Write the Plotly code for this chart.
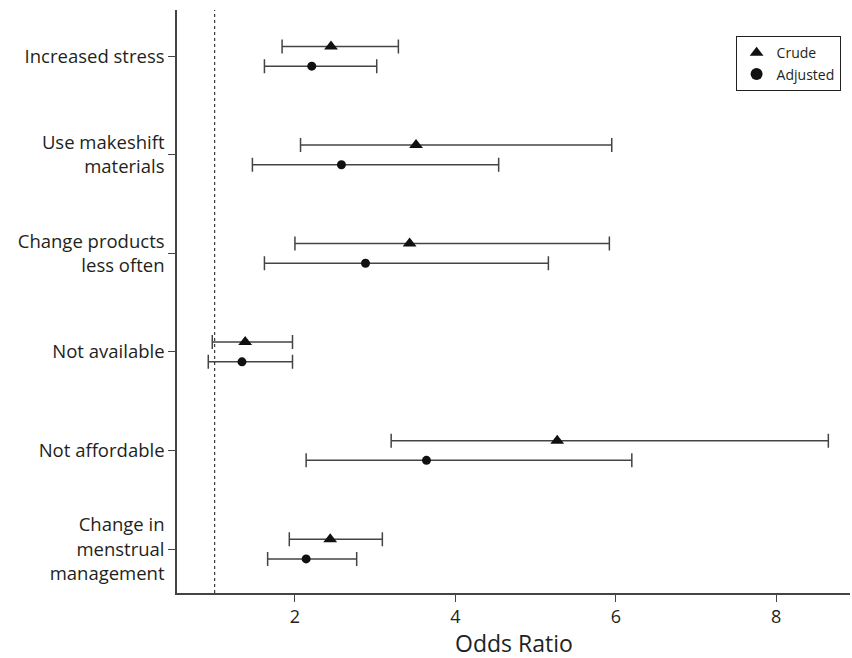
import plotly.graph_objects as go

categories = ["Change in<br>menstrual<br>management", "Not affordable", "Not available",
              "Change products<br>less often", "Use makeshift<br>materials", "Increased stress"]
crude_or = [2.44, 5.27, 1.38, 3.43, 3.51, 2.45]
crude_lo = [1.93, 3.20, 0.97, 2.00, 2.07, 1.84]
crude_hi = [3.09, 8.65, 1.97, 5.92, 5.95, 3.29]
adj_or = [2.14, 3.64, 1.34, 2.88, 2.58, 2.21]
adj_lo = [1.66, 2.14, 0.92, 1.62, 1.47, 1.62]
adj_hi = [2.77, 6.20, 1.97, 5.16, 4.54, 3.02]
x_ticks = [2, 4, 6, 8]
x_title = "Odds Ratio"

pos = list(range(len(categories)))
off = 0.1
ecol = "#444444"

fig = go.Figure()
fig.add_trace(go.Scatter(
    x=crude_or, y=[p + off for p in pos], mode="markers", name="Crude",
    marker=dict(symbol="triangle-up", size=12, color="#111111"),
    error_x=dict(type="data", symmetric=False,
                 array=[h - o for h, o in zip(crude_hi, crude_or)],
                 arrayminus=[o - l for o, l in zip(crude_or, crude_lo)],
                 color=ecol, thickness=1.5, width=7)))
fig.add_trace(go.Scatter(
    x=adj_or, y=[p - off for p in pos], mode="markers", name="Adjusted",
    marker=dict(symbol="circle", size=9, color="#111111"),
    error_x=dict(type="data", symmetric=False,
                 array=[h - o for h, o in zip(adj_hi, adj_or)],
                 arrayminus=[o - l for o, l in zip(adj_or, adj_lo)],
                 color=ecol, thickness=1.5, width=7)))

fig.add_shape(type="line", x0=1, x1=1, xref="x", y0=0, y1=1, yref="paper",
              line=dict(color="#111111", width=1, dash="dot"))

fig.add_annotation(text=x_title, xref="paper", yref="paper", x=0.5, y=0,
                   xanchor="center", yanchor="middle", yshift=-50,
                   showarrow=False, font=dict(size=23))

font_family = "Open Sans, Liberation Sans, sans-serif"
fig.update_layout(
    width=852, height=658,
    margin=dict(l=177, r=2, t=10, b=65),
    plot_bgcolor="white", paper_bgcolor="white",
    font=dict(family=font_family, color="#231f20", size=15),
    showlegend=True,
    legend=dict(x=0.83, y=0.955, xanchor="left", yanchor="top",
                bordercolor="#231f20", borderwidth=1, bgcolor="white",
                font=dict(size=14), itemsizing="constant", tracegroupgap=0,
                itemwidth=30),
    xaxis=dict(range=[0.53, 8.92], tickvals=x_ticks, ticks="outside", ticklen=7,
               tickcolor="#444444", showline=True, linecolor="#444444", linewidth=1.5,
               showgrid=False, zeroline=False, tickfont=dict(size=18),
               automargin=False),
    yaxis=dict(range=[-0.446, 5.47], tickvals=pos, ticktext=categories,
               ticks="outside", ticklen=7, tickcolor="#444444",
               showline=True, linecolor="#444444", linewidth=1.5,
               showgrid=False, zeroline=False, tickfont=dict(size=18.5),
               automargin=False),
)

fig.write_html("out.html", config={"displayModeBar": False},
               post_script="document.body.style.margin='0';document.body.style.overflow='hidden';")
